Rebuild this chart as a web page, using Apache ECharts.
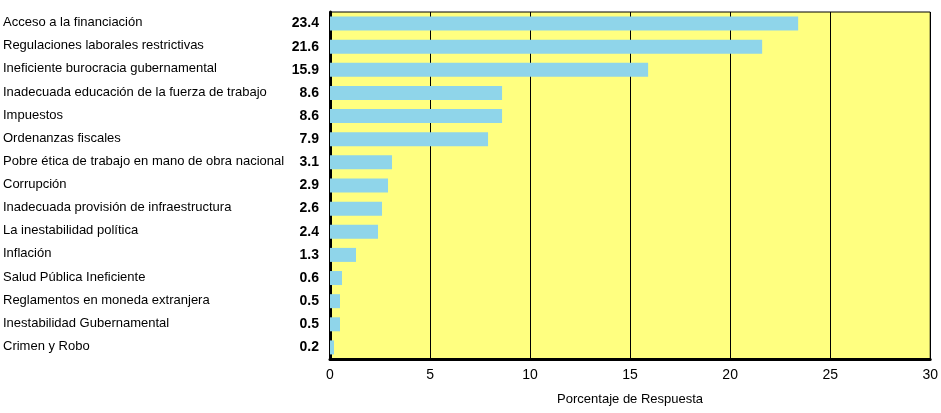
<!DOCTYPE html>
<html><head><meta charset="utf-8">
<script src="https://cdn.jsdelivr.net/npm/echarts@6/dist/echarts.min.js"></script>
<style>html,body{margin:0;padding:0;background:#fff}#c{width:941px;height:413px}</style>
</head><body><div id="c"></div>
<script>
const categories = ["Acceso a la financiación","Regulaciones laborales restrictivas","Ineficiente burocracia gubernamental","Inadecuada educación de la fuerza de trabajo","Impuestos","Ordenanzas fiscales","Pobre ética de trabajo en mano de obra nacional","Corrupción","Inadecuada provisión de infraestructura","La inestabilidad política","Inflación","Salud Pública Ineficiente","Reglamentos en moneda extranjera","Inestabilidad Gubernamental","Crimen y Robo"];
const values = [23.4,21.6,15.9,8.6,8.6,7.9,3.1,2.9,2.6,2.4,1.3,0.6,0.5,0.5,0.2];
const xTicks = [0,5,10,15,20,25,30];

const chart = echarts.init(document.getElementById('c'), null, {renderer:'canvas'});
chart.setOption({
  animation:false,
  grid:{left:330,right:8,top:12,bottom:54,show:true,backgroundColor:'#FFFF80',borderColor:'#000',borderWidth:1},
  xAxis:{type:'value',min:xTicks[0],max:xTicks[xTicks.length-1],interval:5,
    axisLine:{show:true,onZero:false,lineStyle:{color:'#000',width:3}},
    axisTick:{show:false},
    splitLine:{show:true,lineStyle:{color:'#000',width:1}},
    axisLabel:{color:'#000',fontFamily:'Liberation Sans, Arial',fontSize:14,margin:9},
    name:'Porcentaje de Respuesta',nameLocation:'middle',nameGap:34,
    nameTextStyle:{color:'#000',fontFamily:'Liberation Sans, Arial',fontSize:13}},
  yAxis:{type:'category',data:categories,inverse:true,
    axisLine:{show:true,lineStyle:{color:'#000',width:3}},
    axisTick:{show:false},
    axisLabel:{margin:11,align:'right',
      formatter:function(v,i){return '{a|'+v+'}{b|'+values[i].toFixed(1)+'}';},
      rich:{a:{width:285,align:'left',color:'#000',fontFamily:'Liberation Sans, Arial',fontSize:13,padding:[-2,0,0,0]},
            b:{width:31,align:'right',color:'#000',fontFamily:'Liberation Sans, Arial',fontSize:14,fontWeight:'bold'}}}},
  series:[{type:'bar',data:values,barWidth:14,itemStyle:{color:'#8FD5EA'}}]
});
</script></body></html>
